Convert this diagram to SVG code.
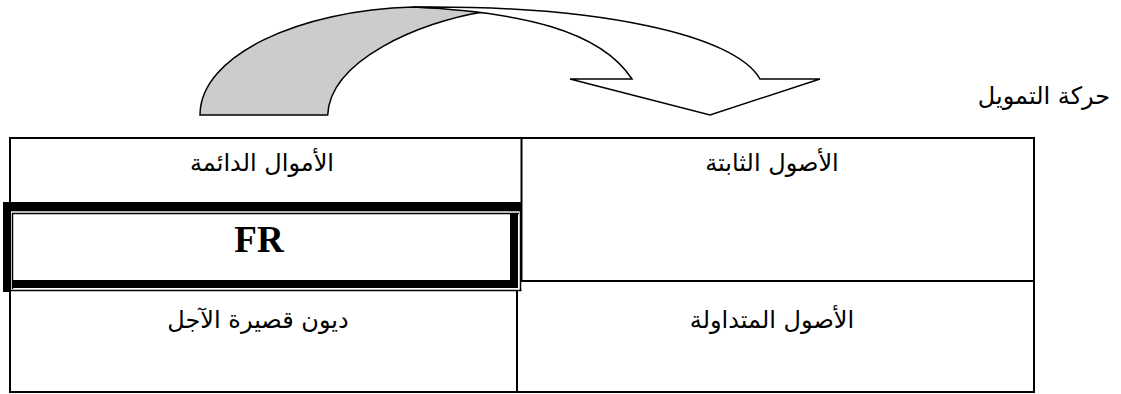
<svg xmlns="http://www.w3.org/2000/svg" width="1121" height="394" viewBox="0 0 1121 394">
<style>
.ln{stroke:#000;stroke-width:2;fill:none}
.ar{font-family:"DejaVu Sans","Noto Sans",sans-serif;font-size:24px;fill:#000;text-anchor:middle}
.fr{font-family:"Liberation Serif","Times New Roman",serif;font-size:37px;font-weight:bold;fill:#000;text-anchor:middle}
.arrow{stroke:#000;stroke-width:1.5;stroke-linejoin:miter}
.bd{fill:#000}
.thin{stroke:#000;stroke-width:1.5}
</style>
<rect width="1121" height="394" fill="#fff"/>
<g id="arrow">
<path class="arrow" fill="#cccccc" d="M200,115 C200,55 300,10 413,7 C450,8 470,9 483,12 C420,22 330,60 327.7,115 Z"/>
<path class="arrow" fill="#ffffff" d="M413,7 C600,5 735,35 760,79 L820,79 L710,115 L570,79 L632,79 C600,30 520,12 413,7 Z"/>
</g>
<g id="label-movement"><text class="ar" x="1044" y="104">حركة التمويل</text></g>
<g id="table">
<rect class="ln" x="10" y="138" width="1024" height="254"/>
<line class="ln" x1="521.5" y1="138" x2="521.5" y2="281"/>
<line class="ln" x1="517" y1="281" x2="517" y2="392"/>
<line class="ln" x1="521" y1="281" x2="1034" y2="281"/>
</g>
<g id="cell-permanent-funds"><text class="ar" x="262" y="171">الأموال الدائمة</text></g>
<g id="cell-fixed-assets"><text class="ar" x="772" y="171">الأصول الثابتة</text></g>
<g id="cell-short-debt"><text class="ar" x="258" y="328">ديون قصيرة الآجل</text></g>
<g id="cell-current-assets"><text class="ar" x="772" y="328">الأصول المتداولة</text></g>
<g id="fr-box">
<rect x="12" y="212" width="508" height="78" fill="#fff"/>
<rect class="bd" x="3" y="202" width="518.7" height="9.3"/>
<rect class="bd" x="3" y="202" width="7" height="90"/>
<rect class="bd" x="12" y="280" width="506" height="8"/>
<rect class="bd" x="510" y="213" width="8" height="75"/>
<line class="thin" x1="12" y1="213.5" x2="519" y2="213.5"/>
<line class="thin" x1="12.5" y1="213" x2="12.5" y2="289"/>
<line class="thin" x1="10" y1="290.5" x2="521.5" y2="290.5"/>
<line class="thin" x1="520.5" y1="211" x2="520.5" y2="291"/>
<text class="fr" x="259" y="252">FR</text>
</g>
</svg>
